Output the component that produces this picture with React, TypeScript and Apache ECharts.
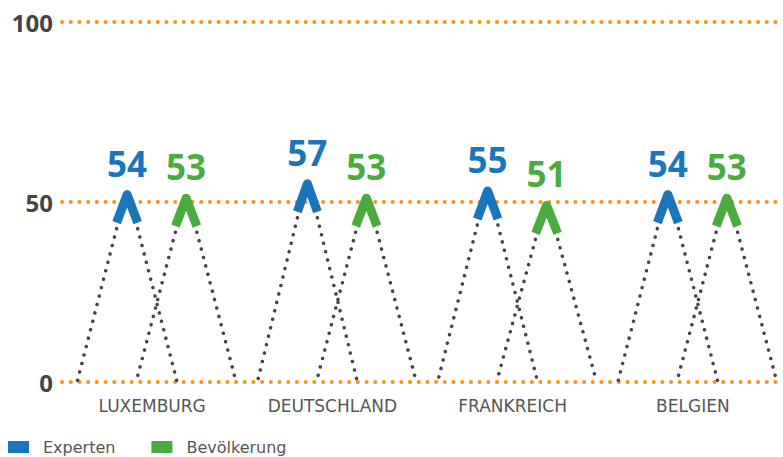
import React, { useEffect, useRef } from "react";
import * as echarts from "echarts";

const categories = ["LUXEMBURG", "DEUTSCHLAND", "FRANKREICH", "BELGIEN"];
const expertenValues = [54, 57, 55, 54];
const bevoelkerungValues = [53, 53, 51, 53];
const yTicks = [0, 50, 100];

const BLUE = "#1b75bb";
const GREEN = "#4aac3f";
const ORANGE = "#f7941d";
const DOT = "#444444";

function makeRenderItem(offset: number, color: string) {
  return (params: any, api: any) => {
    const idx = api.value(0);
    const v = api.value(1);
    const top = api.coord([idx, v]);
    const base = api.coord([idx, 0]);
    const x = top[0] + offset;
    const yTop = top[1];
    const yBase = base[1];
    const halfW = 50;
    const H = yBase - yTop;
    const slope = halfW / H;
    const capTop = yTop + 7;
    const capBottom = yTop + 35;
    const dotStart = yTop + 41;
    const dx = slope * (dotStart - yTop);
    const cdx = slope * (capBottom - yTop) + 1.5;
    const dotStyle = {
      stroke: DOT,
      lineWidth: 3.5,
      lineDash: [0.1, 8.6],
      lineCap: "round",
      fill: null,
    };
    return {
      type: "group",
      children: [
        {
          type: "line",
          shape: { x1: x - dx, y1: dotStart, x2: x - halfW, y2: yBase },
          style: dotStyle,
        },
        {
          type: "line",
          shape: { x1: x + dx, y1: dotStart, x2: x + halfW, y2: yBase },
          style: dotStyle,
        },
        {
          type: "polyline",
          shape: {
            points: [
              [x - cdx, capBottom],
              [x, capTop],
              [x + cdx, capBottom],
            ],
          },
          style: {
            stroke: color,
            lineWidth: 9,
            lineJoin: "round",
            lineCap: "butt",
            fill: null,
          },
        },
        {
          type: "text",
          x: x,
          y: yTop - 7,
          style: {
            text: String(v),
            fill: color,
            font: "bold 35px 'Open Sans'",
            align: "center",
            verticalAlign: "bottom",
          },
        },
      ],
    };
  };
}

export default function App() {
  const ref = useRef<HTMLDivElement>(null);
  useEffect(() => {
    if (!ref.current) return;
    const chart = echarts.init(ref.current, undefined, { renderer: "svg" });
    chart.setOption({
      animation: false,
      grid: { left: 62, right: 0, top: 22, bottom: 75 },
      legend: {
        left: 8,
        top: 439,
        padding: 0,
        icon: "rect",
        itemWidth: 21,
        itemHeight: 12,
        itemGap: 36,
        textStyle: {
          fontFamily: "DejaVu Sans",
          fontSize: 16,
          color: "#555555",
          padding: [0, 0, 10, 9],
        },
        data: [
          { name: "Experten", itemStyle: { color: BLUE } },
          { name: "Bevölkerung", itemStyle: { color: GREEN } },
        ],
      },
      xAxis: {
        type: "category",
        data: categories,
        axisLine: { show: false },
        axisTick: { show: false },
        axisLabel: {
          margin: 15,
          fontFamily: "DejaVu Sans",
          fontSize: 17,
          color: "#555555",
        },
      },
      yAxis: {
        type: "value",
        min: yTicks[0],
        max: yTicks[yTicks.length - 1],
        interval: 50,
        axisLine: { show: false },
        axisTick: { show: false },
        axisLabel: {
          margin: 9,
          fontFamily: "Open Sans",
          fontWeight: "bold",
          fontSize: 24,
          color: "#444444",
        },
        splitLine: {
          lineStyle: {
            color: ORANGE,
            width: 4,
            type: [0.1, 8.6],
            cap: "round",
          },
        },
      },
      series: [
        {
          name: "Experten",
          type: "custom",
          itemStyle: { color: BLUE },
          renderItem: makeRenderItem(-25, BLUE),
          data: expertenValues.map((v, i) => [i, v]),
          z: 3,
        },
        {
          name: "Bevölkerung",
          type: "custom",
          itemStyle: { color: GREEN },
          renderItem: makeRenderItem(34, GREEN),
          data: bevoelkerungValues.map((v, i) => [i, v]),
          z: 3,
        },
      ],
    });
    return () => chart.dispose();
  }, []);
  return (
    <div
      ref={ref}
      style={{ position: "absolute", left: 0, top: 0, width: 783, height: 457 }}
    />
  );
}
